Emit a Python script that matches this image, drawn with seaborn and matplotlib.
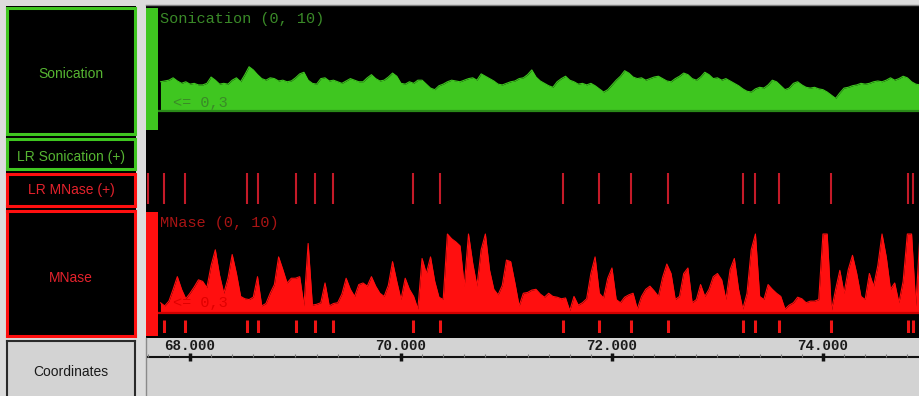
import matplotlib
matplotlib.use("Agg")
import matplotlib.pyplot as plt
from matplotlib.patches import Rectangle
import numpy as np
import pandas as pd
import seaborn as sns

sns.set_theme(style="white")
plt.rcParams["font.family"] = ["Liberation Sans", "DejaVu Sans"]

# ---- data -----------------------------------------------------------------
BIN_START_KB = 67.70      # first coverage bin (kb)
BIN_SIZE_KB = 0.04        # coverage bin width (kb)
VIEW_KB = (67.583, 74.92)  # visible genomic window (kb)

sonication = [
    3.7, 3.8, 3.9, 4.2, 3.8, 3.5, 3.7, 3.4, 3.5, 3.3,
    3.3, 3.5, 4.3, 3.9, 3.4, 3.5, 3.4, 3.9, 4.2, 3.7,
    4.6, 5.6, 5.2, 4.6, 4.1, 3.9, 4.2, 4.1, 3.8, 3.9,
    3.7, 3.8, 4.2, 4.7, 4.9, 3.9, 3.5, 3.4, 4.1, 4.2,
    3.8, 3.9, 3.7, 3.5, 3.8, 4.1, 3.9, 3.7, 3.7, 4.2,
    4.6, 4.1, 3.8, 3.9, 4.3, 4.8, 4.4, 3.5, 3.4, 3.7,
    3.5, 3.9, 3.9, 3.4, 2.9, 2.7, 3.2, 3.4, 3.7, 3.9,
    3.8, 3.7, 3.9, 4.1, 4.2, 3.9, 4.7, 4.4, 4.1, 3.8,
    3.4, 3.3, 3.5, 3.7, 3.8, 4.1, 4.2, 4.6, 5.2, 4.3,
    3.8, 3.5, 3.2, 3.0, 3.7, 4.1, 4.4, 3.9, 3.7, 3.4,
    3.5, 3.3, 3.5, 3.2, 2.8, 2.4, 2.7, 3.3, 3.9, 4.4,
    5.1, 4.8, 4.3, 4.1, 4.2, 3.9, 4.1, 4.3, 4.4, 4.1,
    3.8, 3.7, 4.1, 4.4, 4.8, 4.6, 4.1, 3.9, 4.3, 4.9,
    4.6, 4.1, 4.2, 3.9, 4.1, 3.8, 3.5, 3.2, 2.8, 2.5,
    2.4, 2.8, 3.0, 2.9, 3.3, 3.9, 3.7, 3.2, 2.7, 2.9,
    3.5, 3.7, 3.3, 3.0, 2.9, 3.0, 2.8, 2.7, 2.4, 2.0,
    1.6, 2.3, 2.9, 3.0, 3.2, 3.3, 3.5, 3.4, 3.5, 3.7,
    3.8, 3.7, 3.9, 4.2, 3.9, 4.1, 4.4, 4.2, 3.7, 3.4,
    3.3,
]

mnase = [
    1.3, 0.9, 1.5, 3.0, 4.6, 3.0, 1.8, 2.5, 3.3, 4.2,
    4.0, 3.2, 6.0, 8.0, 4.8, 2.5, 4.4, 7.4, 5.0, 2.1,
    1.8, 1.7, 2.0, 4.6, 0.9, 1.2, 2.5, 3.6, 7.1, 5.5,
    3.8, 4.4, 4.4, 4.6, 0.9, 8.8, 1.0, 1.1, 1.3, 3.8,
    0.9, 1.2, 1.3, 2.4, 4.4, 3.0, 2.1, 3.6, 3.8, 3.4,
    4.6, 3.4, 2.5, 2.1, 3.5, 6.5, 4.0, 1.7, 4.4, 3.0,
    2.1, 0.5, 6.9, 5.0, 7.1, 4.0, 2.0, 1.7, 10.0, 9.4,
    9.0, 8.5, 3.4, 10.0, 6.3, 3.4, 8.0, 10.0, 5.4, 3.0,
    2.3, 3.5, 6.7, 6.5, 3.8, 0.9, 2.5, 2.6, 2.9, 3.0,
    2.4, 2.0, 2.5, 2.1, 2.0, 1.8, 1.9, 0.3, 2.1, 1.0,
    1.3, 1.8, 5.0, 7.1, 2.5, 1.9, 4.4, 5.7, 1.7, 1.3,
    2.0, 2.3, 2.5, 0.5, 2.1, 3.0, 3.4, 2.8, 2.1, 4.5,
    6.2, 5.0, 1.7, 2.1, 5.0, 5.7, 1.3, 1.7, 3.6, 2.1,
    3.0, 4.6, 5.0, 4.2, 1.7, 5.5, 6.9, 3.0, 0.5, 2.5,
    8.0, 10.0, 2.1, 1.7, 3.6, 3.0, 2.5, 2.1, 0.5, 1.0,
    1.3, 2.0, 1.8, 1.3, 1.5, 1.5, 1.7, 10.0, 10.0, 0.3,
    3.0, 5.4, 2.5, 5.5, 7.3, 5.0, 2.1, 1.7, 5.0, 3.4,
    6.0, 10.0, 7.1, 3.0, 3.8, 1.3, 4.0, 10.0, 10.0, 0.9,
    10.0,
]

# long-read MNase (+) feature positions (kb)
lr_mnase_kb = [67.602, 67.754, 67.953, 68.540, 68.645, 69.005, 69.185, 69.355,
               70.114, 70.370, 71.536, 71.877, 72.180, 72.531, 73.242, 73.355,
               73.583, 74.076, 74.806, 74.853]

coord_ticks_kb = [68, 70, 72, 74]
coord_tick_labels = ["68.000", "70.000", "72.000", "74.000"]
track_labels = ["Sonication", "LR Sonication (+)", "LR MNase (+)", "MNase", "Coordinates"]
son_title, mnase_title, floor_label = "Sonication (0, 10)", "MNase (0, 10)", "<= 0,3"

# ---- styling --------------------------------------------------------------
GREEN = "#3fc620"
GREEN_DARK = "#2a8a18"
GREEN_TEXT = "#56b532"
GREEN_TITLE = "#3a8a28"
RED = "#ff0f0f"
RED_DARK = "#d00000"
RED_TEXT = "#e4222c"
RED_TITLE = "#a81414"
LR_RED = "#c41a28"
PANEL_GRAY = "#d3d3d3"
MONO = "Liberation Mono"

W, H = 920, 396
PX_PER_UNIT = 7.9


def rect(x0, y0, x1, y1):
    """pixel box (top-left origin) -> figure fraction box"""
    return [x0 / W, 1 - y1 / H, (x1 - x0) / W, (y1 - y0) / H]


fig = plt.figure(figsize=(W / 100, H / 100), dpi=100)
fig.patch.set_facecolor("#dcdcdc")


def blank(r, fc="none", z=0):
    ax = fig.add_axes(r, zorder=z)
    ax.set_facecolor(fc)
    ax.set_xticks([])
    ax.set_yticks([])
    for s in ax.spines.values():
        s.set_visible(False)
    return ax


def fig_text(x, y, s, **kw):
    fig.text(x / W, 1 - y / H, s, **kw)


# backgrounds
blank(rect(6, 6, 136, 337), "black")
bg = blank(rect(146, 5, 920, 338), "black")
bg.spines["top"].set_visible(True)
bg.spines["top"].set_color("#808080")
bg.spines["top"].set_linewidth(1)

# left-hand track name boxes
boxes = [(track_labels[0], 6, 135, GREEN, GREEN_TEXT, 74),
         (track_labels[1], 137, 171, GREEN, GREEN_TEXT, 157),
         (track_labels[2], 172, 207, RED, RED_TEXT, 190),
         (track_labels[3], 209, 337, RED, RED_TEXT, 278)]
for name, y0, y1, edge, tc, ty in boxes:
    ax = blank(rect(7.5, y0 + 1.5, 134.5, y1 - 1.5), "black", z=2)
    for s in ax.spines.values():
        s.set_visible(True)
        s.set_color(edge)
        s.set_linewidth(2.2)
    fig_text(71, ty, name, ha="center", va="center", color=tc, fontsize=10, zorder=5)

cbox = blank(rect(7, 341, 135, 402), PANEL_GRAY, z=2)
for s in cbox.spines.values():
    s.set_visible(True)
    s.set_color("#2a2a2a")
    s.set_linewidth(1.5)
fig_text(71, 372, track_labels[4], ha="center", va="center", color="#1a1a1a",
         fontsize=10, zorder=5)

# coverage table (value at each bin centre)
centers = BIN_START_KB + BIN_SIZE_KB * (np.arange(len(sonication)) + 0.5)
cov = pd.DataFrame({"kb": centers, "sonication": sonication, "mnase": mnase})


def coverage_track(top, bottom, baseline_y, column, fill, line, bar_bottom_frac):
    ax = blank(rect(146, top, 920, bottom), z=3)
    sns.lineplot(data=cov, x="kb", y=column, color=fill, lw=0.8, ax=ax, zorder=2)
    ax.fill_between(cov["kb"], cov[column], 0, color=fill, lw=0, zorder=2)
    ax.set_xlim(*VIEW_KB)
    ax.set_ylim(-(bottom - baseline_y) / PX_PER_UNIT, (baseline_y - top) / PX_PER_UNIT)
    ax.axhline(0, color=line, lw=1.6, zorder=3)
    ax.add_patch(Rectangle((0, bar_bottom_frac), 12 / 774, 1 - bar_bottom_frac,
                           transform=ax.transAxes, color=fill, lw=0, zorder=4))
    ax.set_xlabel("")
    ax.set_ylabel("")
    ax.set_xticks([])
    ax.set_yticks([])
    return ax


coverage_track(8, 132, 111, "sonication", GREEN, GREEN_DARK, 2 / 124)
coverage_track(212, 336, 313, "mnase", RED, RED_DARK, 0.0)

fig_text(160, 19, son_title, ha="left", va="center", family=MONO, fontsize=11,
         color=GREEN_TITLE, zorder=6)
fig_text(173, 103, floor_label, ha="left", va="center", family=MONO, fontsize=11,
         color=GREEN_TITLE, zorder=6)
fig_text(160, 223, mnase_title, ha="left", va="center", family=MONO, fontsize=11,
         color=RED_TITLE, zorder=6)
fig_text(173, 303, floor_label, ha="left", va="center", family=MONO, fontsize=11,
         color="#e00000", zorder=6)

# long-read MNase feature ticks
ax_lr = blank(rect(146, 173, 920, 204), z=3)
sns.rugplot(x=lr_mnase_kb, height=1, color=LR_RED, linewidth=1.5, ax=ax_lr,
            expand_margins=False)
ax_lr.set_xlim(*VIEW_KB)
ax_lr.set_ylim(0, 1)

# feature marks under the MNase coverage
ax_mt = blank(rect(146, 320, 920, 333), z=3)
sns.rugplot(x=lr_mnase_kb, height=1, color="#ee1414", linewidth=2.2, ax=ax_mt,
            expand_margins=False)
ax_mt.set_xlim(*VIEW_KB)
ax_mt.set_ylim(0, 1)

# coordinate ruler
ax_c = blank(rect(146, 338, 920, 396), PANEL_GRAY, z=3)
ax_c.spines["left"].set_visible(True)
ax_c.spines["left"].set_color("#8a8a8a")
ax_c.spines["left"].set_linewidth(1)
ax_c.set_xlim(*VIEW_KB)
ax_c.set_ylim(396, 338)
ax_c.axhline(357, color="#111111", lw=1.5)
minor = np.arange(67.6, VIEW_KB[1], 0.2)
ax_c.vlines(minor, 354, 357, color="#7a7a7a", lw=0.8)
ax_c.vlines(coord_ticks_kb, 353, 361, color="#111111", lw=2.5)
for t, lab in zip(coord_ticks_kb, coord_tick_labels):
    ax_c.text(t, 346, lab, ha="center", va="center", family=MONO, weight="bold",
              fontsize=10.2, color="#1a1a1a")

fig.savefig("out.png", dpi=100, facecolor=fig.get_facecolor())
